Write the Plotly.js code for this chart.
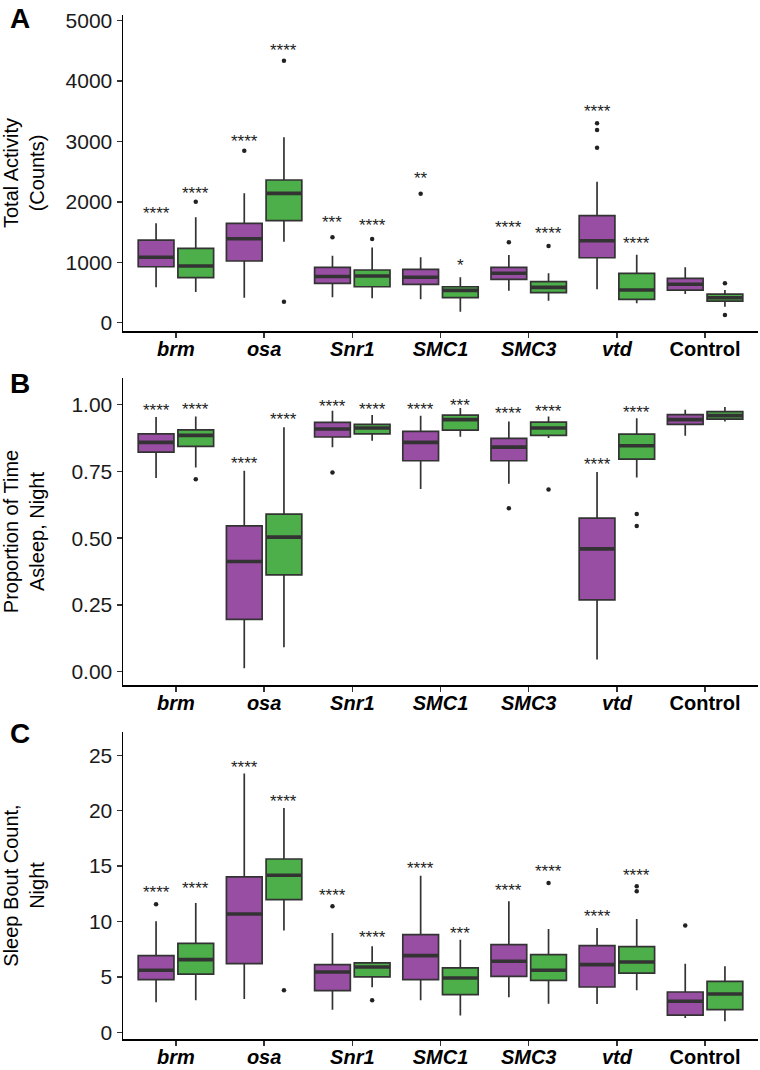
<!DOCTYPE html>
<html><head><meta charset="utf-8">
<script src="https://cdn.plot.ly/plotly-3.0.1.min.js"></script>
<style>body{margin:0;background:#fff}#chart{width:760px;height:1070px}</style>
</head><body><div id="chart"></div>
<script>
// ---------- data ----------
const categories = ['brm', 'osa', 'Snr1', 'SMC1', 'SMC3', 'vtd', 'Control'];
const tickLabels = ['<b><i>brm</i></b>', '<b><i>osa</i></b>', '<b><i>Snr1</i></b>', '<b><i>SMC1</i></b>',
                    '<b><i>SMC3</i></b>', '<b><i>vtd</i></b>', '<b>Control</b>'];

// Panel A: Total Activity (Counts)
const actP_lo  = [586, 414, 421, 387, 530, 553, 475];
const actP_q1  = [927, 1022, 652, 636, 719, 1076, 541];
const actP_med = [1083, 1391, 765, 752, 818, 1358, 636];
const actP_q3  = [1369, 1646, 915, 884, 917, 1772, 735];
const actP_hi  = [1646, 2142, 1109, 1083, 1121, 2334, 917];
const actP_out = [[], [2848], [1415], [2136], [1331], [3301, 3190, 2897], []];
const actG_lo  = [508, 1341, 404, 182, 364, 321, 265];
const actG_q1  = [745, 1689, 596, 414, 500, 387, 359];
const actG_med = [939, 2142, 773, 536, 586, 541, 414];
const actG_q3  = [1232, 2363, 873, 596, 679, 818, 475];
const actG_hi  = [1745, 3070, 1245, 752, 818, 1126, 541];
const actG_out = [[2003], [4338, 348], [1388], [], [1270], [], [652, 127]];
const actP_sig = ['****', '****', '***', '**', '****', '****', ''];
const actG_sig = ['****', '****', '****', '*', '****', '****', ''];
const actP_sigY = [1899, 3091, 1740, 2474, 1656, 3576, null];
const actG_sigY = [2230, 4586, 1690, 1025, 1563, 1391, null];

// Panel B: Proportion of Time Asleep, Night
const slpP_lo  = [0.725, 0.0125, 0.841, 0.684, 0.704, 0.046, 0.884];
const slpP_q1  = [0.8225, 0.196, 0.879, 0.79, 0.79, 0.269, 0.926];
const slpP_med = [0.859, 0.4125, 0.909, 0.859, 0.841, 0.46, 0.944];
const slpP_q3  = [0.891, 0.546, 0.934, 0.9, 0.874, 0.575, 0.9625];
const slpP_hi  = [0.954, 0.7525, 0.9775, 0.959, 0.9375, 0.7475, 0.981];
const slpP_out = [[], [], [0.746], [], [0.6125], [], []];
const slpG_lo  = [0.765, 0.091, 0.865, 0.88, 0.875, 0.7275, 0.9375];
const slpG_q1  = [0.844, 0.3625, 0.891, 0.905, 0.885, 0.796, 0.946];
const slpG_med = [0.885, 0.504, 0.9125, 0.944, 0.9125, 0.846, 0.959];
const slpG_q3  = [0.906, 0.59, 0.926, 0.961, 0.935, 0.89, 0.974];
const slpG_hi  = [0.956, 0.916, 0.961, 0.9875, 0.956, 0.949, 0.991];
const slpG_out = [[0.721], [], [], [], [0.6825], [0.591, 0.546], []];
const slpP_sig = ['****', '****', '****', '****', '****', '****', ''];
const slpG_sig = ['****', '****', '****', '***', '****', '****', ''];
const slpP_sigY = [0.996, 0.80, 1.0125, 1.0, 0.9875, 0.796, null];
const slpG_sigY = [1.0025, 0.9625, 1.0025, 1.016, 0.994, 0.99, null];

// Panel C: Sleep Bout Count, Night
const botP_lo  = [2.71, 3.01, 2.05, 2.89, 3.16, 2.56, 1.29];
const botP_q1  = [4.75, 6.2, 3.76, 4.75, 5.05, 4.09, 1.56];
const botP_med = [5.6, 10.68, 5.45, 6.92, 6.41, 6.11, 2.8];
const botP_q3  = [6.92, 14.02, 6.11, 8.81, 7.91, 7.82, 3.64];
const botP_hi  = [10.02, 23.35, 8.97, 14.14, 11.82, 9.42, 6.2];
const botP_out = [[11.55], [], [11.37], [], [], [], [9.63]];
const botG_lo  = [2.89, 9.18, 4.06, 1.53, 2.59, 3.79, 0.99];
const botG_q1  = [5.26, 11.97, 5.0, 3.4, 4.69, 5.35, 2.05];
const botG_med = [6.56, 14.17, 5.9, 4.9, 5.6, 6.35, 3.46];
const botG_q3  = [8.03, 15.64, 6.26, 5.81, 7.01, 7.73, 4.6];
const botG_hi  = [11.67, 20.25, 7.76, 8.36, 9.33, 10.23, 5.96];
const botG_out = [[], [3.79], [2.89], [], [13.48], [13.18, 12.73], []];
const botP_sig = ['****', '****', '****', '****', '****', '****', ''];
const botG_sig = ['****', '****', '****', '***', '****', '****', ''];
const botP_sigY = [13.03, 24.31, 12.79, 15.28, 13.27, 10.89, null];
const botG_sigY = [13.42, 21.3, 9.0, 9.39, 14.98, 14.59, null];

// ---------- style ----------
const PURPLE = '#984EA3', GREEN = '#4DAF4A', EDGE = '#333333';
const OFFSET = 0.225, BOXW = 0.405;
const FONT = 'Liberation Sans, Arial, Helvetica, sans-serif';

const traces = [];
const annotations = [];

function addGroup(ax, offset, color, lo, q1, med, q3, hi, out, sig, sigY) {
  const xa = 'x' + ax, ya = 'y' + ax;
  const pos = categories.map((c, i) => i + 1 + offset);
  traces.push({
    type: 'box', xaxis: xa, yaxis: ya, x: pos,
    q1: q1, median: med, q3: q3, lowerfence: lo, upperfence: hi,
    width: BOXW, whiskerwidth: 0, boxpoints: false,
    fillcolor: color, line: {color: EDGE, width: 1.7},
    hoverinfo: 'skip', showlegend: false
  });
  // thick median bars
  const mx = [], my = [];
  pos.forEach((p, i) => { mx.push(p - BOXW / 2, p + BOXW / 2, null); my.push(med[i], med[i], null); });
  traces.push({type: 'scatter', mode: 'lines', xaxis: xa, yaxis: ya, x: mx, y: my,
    line: {color: EDGE, width: 3.6}, hoverinfo: 'skip', showlegend: false});
  // outliers
  const ox = [], oy = [];
  out.forEach((arr, i) => arr.forEach(v => { ox.push(pos[i]); oy.push(v); }));
  traces.push({type: 'scatter', mode: 'markers', xaxis: xa, yaxis: ya, x: ox, y: oy,
    marker: {color: '#222', size: 4.5}, hoverinfo: 'skip', showlegend: false});
  // significance stars
  sig.forEach((s, i) => {
    if (!s) return;
    annotations.push({xref: xa, yref: ya, x: pos[i], y: sigY[i], text: s, showarrow: false,
      xanchor: 'center', yanchor: 'middle', yshift: -5, font: {family: FONT, size: 17, color: '#222'}});
  });
}

addGroup('', -OFFSET, PURPLE, actP_lo, actP_q1, actP_med, actP_q3, actP_hi, actP_out, actP_sig, actP_sigY);
addGroup('', OFFSET, GREEN, actG_lo, actG_q1, actG_med, actG_q3, actG_hi, actG_out, actG_sig, actG_sigY);
addGroup('2', -OFFSET, PURPLE, slpP_lo, slpP_q1, slpP_med, slpP_q3, slpP_hi, slpP_out, slpP_sig, slpP_sigY);
addGroup('2', OFFSET, GREEN, slpG_lo, slpG_q1, slpG_med, slpG_q3, slpG_hi, slpG_out, slpG_sig, slpG_sigY);
addGroup('3', -OFFSET, PURPLE, botP_lo, botP_q1, botP_med, botP_q3, botP_hi, botP_out, botP_sig, botP_sigY);
addGroup('3', OFFSET, GREEN, botG_lo, botG_q1, botG_med, botG_q3, botG_hi, botG_out, botG_sig, botG_sigY);

const xBase = {
  type: 'linear', range: [0.4, 7.6], tickvals: categories.map((c, i) => i + 1), ticktext: tickLabels,
  showline: true, linecolor: '#000', linewidth: 1.5, ticks: 'outside', ticklen: 5, tickwidth: 1.5,
  tickcolor: '#333', showgrid: false, zeroline: false, tickfont: {family: FONT, size: 20, color: '#000'},
  ticklabelstandoff: -6, domain: [0, 1], fixedrange: true
};
const yBase = {
  showline: true, linecolor: '#000', linewidth: 1.5, ticks: 'outside', ticklen: 5, tickwidth: 1.5,
  tickcolor: '#333', showgrid: false, zeroline: false, tickfont: {family: FONT, size: 21, color: '#1a1a1a'},
  fixedrange: true
};

const layout = {
  width: 760, height: 1070,
  margin: {l: 123, r: 2, t: 15, b: 31},
  paper_bgcolor: '#fff', plot_bgcolor: '#fff',
  font: {family: FONT, color: '#000'},
  showlegend: false,
  xaxis: Object.assign({}, xBase, {anchor: 'y'}),
  xaxis2: Object.assign({}, xBase, {anchor: 'y2'}),
  xaxis3: Object.assign({}, xBase, {anchor: 'y3'}),
  yaxis: Object.assign({}, yBase, {anchor: 'x', domain: [0.6914, 1], range: [-137, 5094],
    tickvals: [0, 1000, 2000, 3000, 4000, 5000], ticktext: ['0', '1000', '2000', '3000', '4000', '5000'],
    title: {text: 'Total Activity<br>(Counts)', font: {family: FONT, size: 20, color: '#000'}, standoff: 18}}),
  yaxis2: Object.assign({}, yBase, {anchor: 'x2', domain: [0.3457, 0.6455], range: [-0.05, 1.10],
    tickvals: [0, 0.25, 0.5, 0.75, 1.0], ticktext: ['0.00', '0.25', '0.50', '0.75', '1.00'],
    title: {text: 'Proportion of Time<br>Asleep, Night', font: {family: FONT, size: 20, color: '#000'}, standoff: 25}}),
  yaxis3: Object.assign({}, yBase, {anchor: 'x3', domain: [0, 0.2998], range: [-0.6, 27.1],
    tickvals: [0, 5, 10, 15, 20, 25], ticktext: ['0', '5', '10', '15', '20', '25'],
    title: {text: 'Sleep Bout Count,<br>Night', font: {family: FONT, size: 20, color: '#000'}, standoff: 40}}),
  annotations: annotations.concat([
    {xref: 'paper', yref: 'paper', x: -0.1815, y: 1.0135, xanchor: 'left', yanchor: 'top', showarrow: false,
     text: '<b>A</b>', font: {family: FONT, size: 28, color: '#000'}},
    {xref: 'paper', yref: 'paper', x: -0.1815, y: 0.6571, xanchor: 'left', yanchor: 'top', showarrow: false,
     text: '<b>B</b>', font: {family: FONT, size: 28, color: '#000'}},
    {xref: 'paper', yref: 'paper', x: -0.1815, y: 0.3153, xanchor: 'left', yanchor: 'top', showarrow: false,
     text: '<b>C</b>', font: {family: FONT, size: 28, color: '#000'}}
  ])
};

Plotly.newPlot('chart', traces, layout, {staticPlot: true, displayModeBar: false});
</script></body></html>
